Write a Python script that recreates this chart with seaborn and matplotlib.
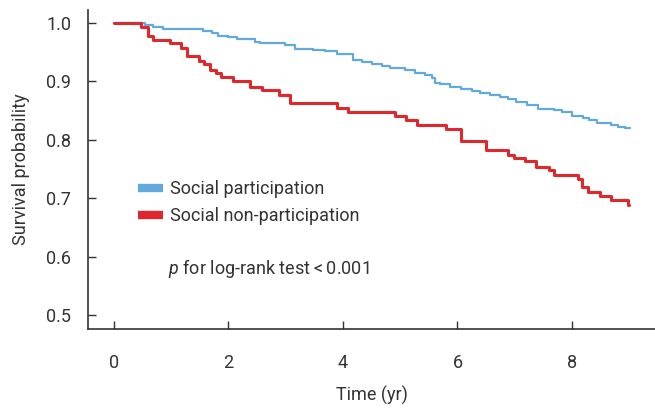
import numpy as np
import pandas as pd
import matplotlib
matplotlib.use("Agg")
import matplotlib.pyplot as plt
from matplotlib.lines import Line2D
import seaborn as sns

# ---- data ----
groups = ["Social participation", "Social non-participation"]

time_part = [0.0, 0.48, 0.54, 0.69, 0.86, 1.10, 1.56, 1.71, 1.82, 2.00, 2.14, 2.46, 2.55,
             2.99, 3.17, 3.48, 3.68, 3.89, 4.03, 4.18, 4.33, 4.50, 4.68, 4.82, 5.08,
             5.26, 5.43, 5.55, 5.61, 5.69, 5.87, 6.07, 6.25, 6.39, 6.57, 6.74, 6.89,
             7.03, 7.21, 7.40, 7.69, 7.82, 8.00, 8.20, 8.29, 8.43, 8.69, 8.81, 8.92, 9.01]
surv_part = [1.000, 1.000, 0.997, 0.993, 0.990, 0.989, 0.986, 0.982, 0.978, 0.975, 0.973, 0.967, 0.965,
             0.962, 0.956, 0.953, 0.951, 0.947, 0.946, 0.937, 0.933, 0.930, 0.926, 0.923, 0.919,
             0.914, 0.911, 0.906, 0.897, 0.896, 0.891, 0.887, 0.883, 0.880, 0.876, 0.873, 0.870,
             0.865, 0.860, 0.853, 0.850, 0.847, 0.841, 0.838, 0.833, 0.829, 0.825, 0.822, 0.820, 0.820]

time_non = [0.0, 0.48, 0.60, 0.68, 0.98, 1.17, 1.28, 1.48, 1.58, 1.68, 1.78, 1.87, 2.08,
            2.38, 2.59, 2.89, 3.07, 3.90, 4.09, 4.90, 5.10, 5.29, 5.80, 6.07, 6.50,
            6.89, 6.99, 7.18, 7.38, 7.60, 7.69, 8.11, 8.17, 8.28, 8.49, 8.69, 8.98, 8.99]
surv_non = [1.000, 0.993, 0.978, 0.971, 0.966, 0.957, 0.943, 0.934, 0.929, 0.920, 0.914, 0.907, 0.900,
            0.891, 0.885, 0.877, 0.862, 0.854, 0.848, 0.840, 0.834, 0.826, 0.818, 0.797, 0.783,
            0.774, 0.769, 0.763, 0.753, 0.749, 0.739, 0.732, 0.719, 0.710, 0.703, 0.696, 0.689, 0.689]

x_ticks = [0, 2, 4, 6, 8]
y_ticks = [0.5, 0.6, 0.7, 0.8, 0.9, 1.0]
colors = {"Social participation": "#62a9dc", "Social non-participation": "#e0272c"}

df = pd.concat([
    pd.DataFrame({"time": time_part, "surv": surv_part, "group": groups[0]}),
    pd.DataFrame({"time": time_non, "surv": surv_non, "group": groups[1]}),
], ignore_index=True)

# ---- style ----
sns.set_theme(style="ticks")
plt.rcParams["font.family"] = ["Roboto", "DejaVu Sans"]
plt.rcParams["mathtext.fontset"] = "custom"
plt.rcParams["mathtext.it"] = "Roboto:italic"
plt.rcParams["mathtext.rm"] = "Roboto"

fig = plt.figure(figsize=(6.55, 4.09), dpi=100)
ax = fig.add_axes([88 / 655, 1 - 329 / 409, 1 - 88 / 655, (329 - 10) / 409])

sns.lineplot(data=df, x="time", y="surv", hue="group", palette=colors,
             estimator=None, drawstyle="steps-post", ax=ax, legend=False,
             linewidth=1.8)
for ln, lw in zip(ax.get_lines(), [1.6, 2.2]):
    ln.set_linewidth(lw)

ax.set_xlim(-0.454, 9.45)
ax.set_ylim(0.476, 1.022)
ax.set_xticks(x_ticks)
ax.set_xticklabels([str(v) for v in x_ticks])
ax.set_yticks(y_ticks)
ax.set_yticklabels([f"{v:.1f}" for v in y_ticks])

sns.despine(ax=ax)
for s in ["left", "bottom"]:
    ax.spines[s].set_linewidth(1.2)
    ax.spines[s].set_color("#333333")

ax.tick_params(axis="both", direction="in", length=6, width=1.0, color="#333333",
               labelsize=13, labelcolor="#333333")
ax.tick_params(axis="x", pad=18)
ax.tick_params(axis="y", pad=12)

ax.set_xlabel("Time (yr)", fontsize=13, color="#333333", labelpad=10)
ax.set_ylabel("Survival probability", fontsize=13, color="#333333", labelpad=12)

handles = [Line2D([0], [0], color=colors[g], linewidth=6, solid_capstyle="butt") for g in groups]
ax.legend(handles, groups, loc="upper left", bbox_to_anchor=(0.075, 0.49),
          frameon=False, fontsize=13, handlelength=1.4, handletextpad=0.4,
          labelspacing=0.5, borderaxespad=0, labelcolor="#333333")

ax.text(0.141, 0.191, "$p$ for log-rank test\u2009<\u20090.001", transform=ax.transAxes,
        fontsize=13, color="#333333", ha="left", va="center")

fig.savefig("out.png", dpi=100)
